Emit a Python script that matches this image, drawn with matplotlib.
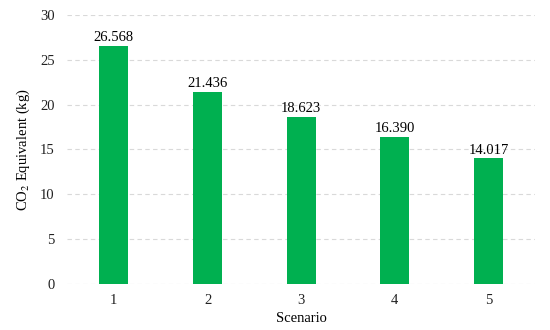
import numpy as np
import matplotlib
matplotlib.use("Agg")
import matplotlib.pyplot as plt

plt.rcParams['font.family'] = ['Liberation Serif', 'DejaVu Serif']
plt.rcParams['mathtext.fontset'] = 'stix'

scenarios = ["1", "2", "3", "4", "5"]
co2 = [26.568, 21.436, 18.623, 16.390, 14.017]
labels = ["26.568", "21.436", "18.623", "16.390", "14.017"]

fig = plt.figure(figsize=(5.5, 3.3), dpi=100)
ax = fig.add_axes([0.122, 0.139, 0.851, 0.816])

x = np.arange(len(scenarios))
bars = ax.bar(x, co2, width=0.31, color='#00B050', zorder=3)
for b, lab in zip(bars, labels):
    ax.text(b.get_x() + b.get_width() / 2, b.get_height() + 0.2, lab,
            ha='center', va='bottom', fontsize=10.5)

ax.set_xlim(-0.5, 4.5)
ax.set_ylim(0, 30)
ax.set_yticks(np.arange(0, 31, 5))
ax.set_xticks(x)
ax.set_xticklabels(scenarios)
ax.yaxis.grid(True, color='#d9d9d9', linestyle=(0, (4, 3)), linewidth=0.8, zorder=0)
for s in ax.spines.values():
    s.set_visible(False)
ax.tick_params(length=0, labelsize=10.5, colors='#222222')
ax.tick_params(axis='y', pad=9)
ax.tick_params(axis='x', pad=7)
ax.set_xlabel('Scenario', fontsize=10.5, labelpad=4)
ax.set_ylabel(r'CO$_2$ Equivalent (kg)', fontsize=10.5, labelpad=6)

plt.savefig("out.png")
